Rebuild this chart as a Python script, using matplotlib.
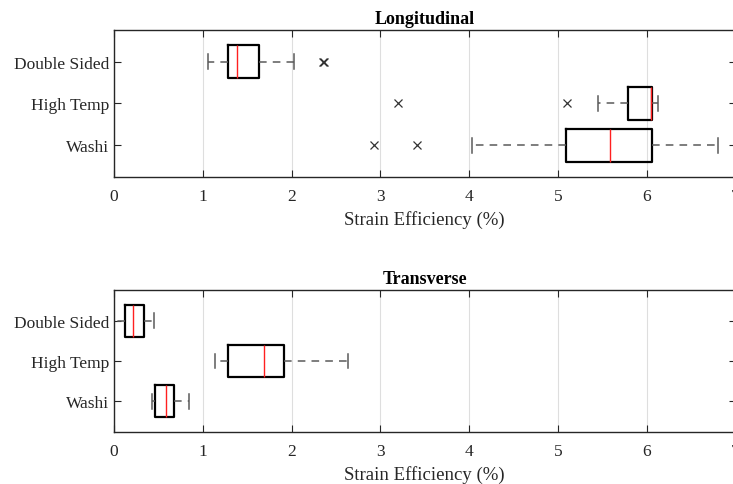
import matplotlib
matplotlib.use('Agg')
from matplotlib import pyplot as plt

categories = ['Double Sided', 'High Temp', 'Washi']

# Longitudinal: whisker low, Q1, median, Q3, whisker high, outliers
long_whislo = [1.062, 5.447, 4.035]
long_q1 = [1.284, 5.785, 5.090]
long_med = [1.385, 6.047, 5.582]
long_q3 = [1.636, 6.062, 6.062]
long_whishi = [2.030, 6.130, 6.805]
long_fliers = [[2.350, 2.365], [3.195, 5.098], [2.928, 3.409]]

# Transverse
trans_whislo = [0.000, 1.137, 0.425]
trans_q1 = [0.120, 1.287, 0.465]
trans_med = [0.210, 1.693, 0.582]
trans_q3 = [0.338, 1.914, 0.679]
trans_whishi = [0.450, 2.638, 0.848]
trans_fliers = [[], [], []]

xticks = [0, 1, 2, 3, 4, 5, 6, 7]

plt.rcParams['font.family'] = ['Liberation Serif', 'DejaVu Serif']


def make_stats(whislo, q1, med, q3, whishi, fliers):
    stats = []
    for i in range(len(med)):
        stats.append(dict(whislo=whislo[i], q1=q1[i], med=med[i], q3=q3[i],
                          whishi=whishi[i], fliers=fliers[i], label=categories[i]))
    return stats


def draw_panel(ax, stats, title):
    ax.bxp(stats, positions=[1, 2, 3], widths=0.8, vert=False,
           capwidths=0.36, showfliers=True,
           boxprops=dict(color='black', linewidth=1.6),
           medianprops=dict(color='#ff2020', linewidth=1.0),
           whiskerprops=dict(color='#5a5a5a', linewidth=1.1, linestyle=(0, (5, 4))),
           capprops=dict(color='#5a5a5a', linewidth=1.1),
           flierprops=dict(marker='x', markeredgecolor='#333333', markersize=6,
                           markeredgewidth=0.9, linestyle='none'))
    ax.set_xlim(0, 7)
    ax.set_ylim(3.77, 0.23)
    ax.set_xticks(xticks)
    ax.set_yticks([1, 2, 3])
    ax.set_yticklabels(categories)
    ax.grid(axis='x', color='#dedede', linewidth=0.8)
    ax.set_axisbelow(True)
    ax.tick_params(direction='in', top=True, right=True, length=5,
                   color='#262626', labelcolor='#262626', labelsize=12.5)
    ax.tick_params(axis='x', pad=8)
    for s in ax.spines.values():
        s.set_color('#262626')
        s.set_linewidth(1.0)
    ax.set_xlabel('Strain Efficiency (%)', fontsize=13.5, color='#262626', labelpad=4)
    ax.set_title(title, fontsize=13, fontweight='bold', color='black', pad=5)


fig = plt.figure(figsize=(7.33, 4.85), dpi=100)
ax1 = fig.add_axes([0.1555, 0.6324, 0.848, 0.3043])
ax2 = fig.add_axes([0.1555, 0.1066, 0.848, 0.294])

draw_panel(ax1, make_stats(long_whislo, long_q1, long_med, long_q3, long_whishi, long_fliers),
           'Longitudinal')
draw_panel(ax2, make_stats(trans_whislo, trans_q1, trans_med, trans_q3, trans_whishi, trans_fliers),
           'Transverse')

fig.savefig('out.png', dpi=100)
